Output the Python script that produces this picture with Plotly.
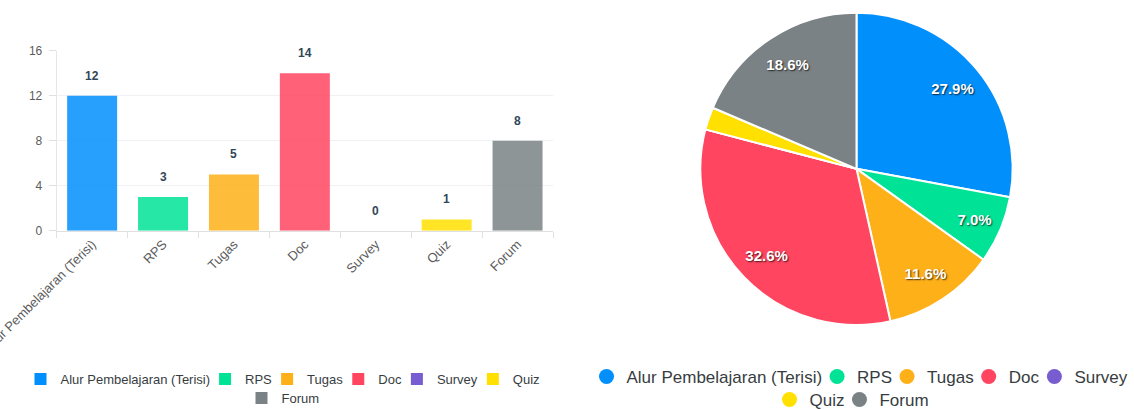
import plotly.graph_objects as go

# data
categories = ["Alur Pembelajaran (Terisi)", "RPS", "Tugas", "Doc", "Survey", "Quiz", "Forum"]
counts = [12, 3, 5, 14, 0, 1, 8]
colors = ["#008FFB", "#00E396", "#FEB019", "#FF4560", "#775DD0", "#FFE000", "#7A8285"]
y_ticks = [0, 4, 8, 12, 16]

FONT = "Liberation Sans, Arial, Helvetica, sans-serif"
TEXT = "#373d3f"
AXIS = "#5c5c5c"
W, H = 1134, 410
PIE_DOMAIN = {"x": [700 / W, 1013 / W], "y": [(H - 325) / H, (H - 12.7) / H]}

fig = go.Figure()

# bar chart, one trace per category so each gets its own legend entry
for cat, val, col in zip(categories, counts, colors):
    fig.add_trace(
        go.Bar(
            x=[cat],
            y=[val],
            name=cat,
            marker={"color": col, "opacity": 0.85, "line": {"width": 0}},
            legend="legend2" if cat == "Forum" else "legend",
            hoverinfo="x+y",
        )
    )
    fig.add_annotation(
        x=cat,
        y=val,
        text=f"<b>{val}</b>",
        showarrow=False,
        yshift=20,
        yanchor="middle",
        font={"family": FONT, "size": 12, "color": "#304758"},
    )

# pie slices
fig.add_trace(
    go.Pie(
        labels=categories,
        values=counts,
        sort=False,
        direction="clockwise",
        rotation=0,
        marker={"colors": colors, "line": {"color": "white", "width": 2}},
        textinfo="none",
        domain=PIE_DOMAIN,
        showlegend=False,
        automargin=False,
    )
)

# percentage labels: a transparent ring on top puts them at ~0.8 of the radius,
# and slices narrower than 10 degrees get no label (ApexCharts default)
total = sum(counts)
pie_text = ["%{percent:.1%}" if v / total * 360 >= 10 else "" for v in counts]
fig.add_trace(
    go.Pie(
        labels=categories,
        values=counts,
        sort=False,
        direction="clockwise",
        rotation=0,
        hole=0.6,
        marker={"colors": ["rgba(0,0,0,0)"] * len(categories), "line": {"width": 0}},
        texttemplate=pie_text,
        textposition="inside",
        insidetextorientation="horizontal",
        textfont={
            "family": FONT,
            "size": 15,
            "color": "white",
            "weight": "bold",
            "shadow": "1px 1px 1.5px rgba(0,0,0,0.7)",
        },
        domain=PIE_DOMAIN,
        showlegend=False,
        automargin=False,
        hoverinfo="skip",
    )
)

# circle legend entries for the pie
for cat, col in zip(categories, colors):
    fig.add_trace(
        go.Scatter(
            x=[None],
            y=[None],
            mode="markers",
            name=cat,
            marker={"symbol": "circle", "size": 15, "color": col},
            legend="legend4" if cat in ("Quiz", "Forum") else "legend3",
        )
    )

bar_legend = {
    "orientation": "h",
    "xanchor": "center",
    "yanchor": "middle",
    "indentation": -10,
    "font": {"family": FONT, "size": 13, "color": TEXT},
    "bgcolor": "rgba(0,0,0,0)",
    "itemclick": False,
}
pie_legend = dict(bar_legend, font={"family": FONT, "size": 17, "color": TEXT})

fig.update_layout(
    width=W,
    height=H,
    margin={"l": 0, "r": 0, "t": 0, "b": 0, "autoexpand": False},
    paper_bgcolor="white",
    plot_bgcolor="white",
    barmode="overlay",
    bargap=0.295,
    font={"family": FONT, "color": TEXT},
    xaxis={
        "domain": [56.7 / W, 553 / W],
        "tickangle": -45,
        "ticks": "outside",
        "tickson": "boundaries",
        "ticklen": 6,
        "tickcolor": "#e0e0e0",
        "showline": True,
        "linecolor": "#e0e0e0",
        "showgrid": False,
        "tickfont": {"family": FONT, "size": 13, "color": AXIS},
        "automargin": False,
        "fixedrange": True,
    },
    yaxis={
        "domain": [(H - 230.7) / H, (H - 50.7) / H],
        "range": [0, 16],
        "tickvals": y_ticks,
        "ticks": "outside",
        "ticklen": 7,
        "tickcolor": "#e0e0e0",
        "ticklabelstandoff": 4,
        "showline": True,
        "linecolor": "#e6e6e6",
        "gridcolor": "#f1f1f5",
        "zeroline": False,
        "tickfont": {"family": FONT, "size": 12, "color": AXIS},
        "automargin": False,
        "fixedrange": True,
    },
    legend=dict(bar_legend, x=288 / W, y=(H - 379) / H),
    legend2=dict(bar_legend, x=288 / W, y=(H - 398) / H),
    legend3=dict(pie_legend, x=865 / W, y=(H - 377) / H),
    legend4=dict(pie_legend, x=857 / W, y=(H - 400) / H),
    showlegend=True,
)

# drop the default 8px page margin so the figure sits at the window's corner
fig.write_html(
    "out.html",
    config={"displayModeBar": False},
    post_script="document.body.style.margin = '0';",
)
